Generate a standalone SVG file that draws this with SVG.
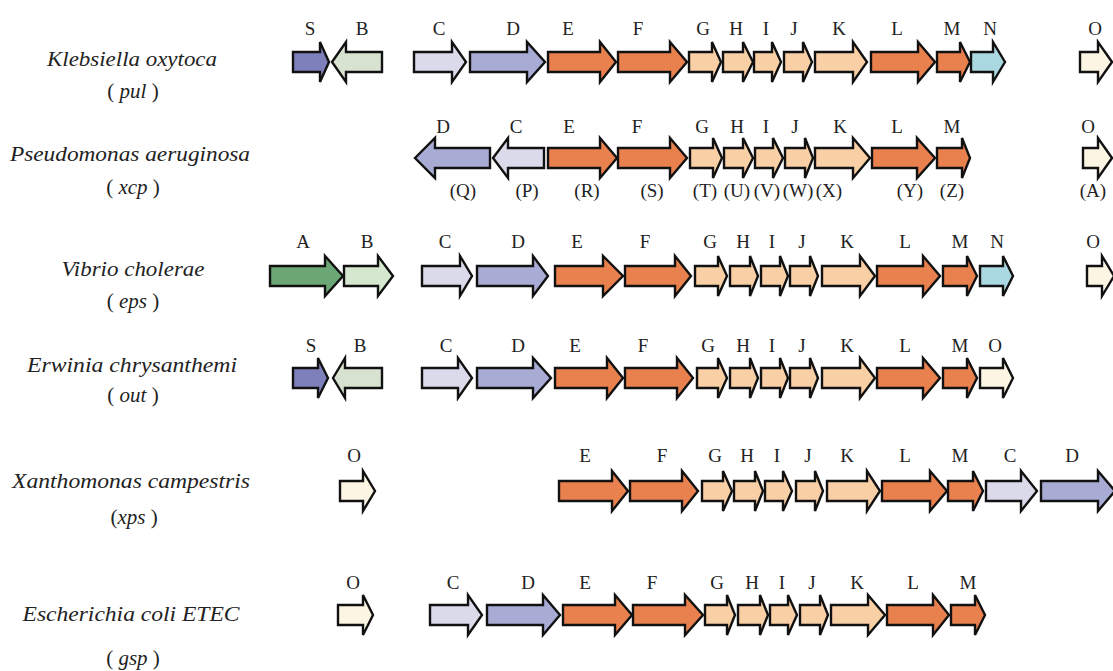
<svg xmlns="http://www.w3.org/2000/svg" width="1113" height="671" viewBox="0 0 1113 671">
<style>
.g{stroke:#111;stroke-width:2.4;stroke-linejoin:miter}
.cS{fill:#7d80ba}.cB{fill:#d7e3d0}.cC{fill:#dadaeb}.cD{fill:#a8acd4}
.cE{fill:#e9814f}.cG{fill:#f9cfa5}.cN{fill:#a9d8e0}.cO{fill:#fcf5e3}
.cA{fill:#6aa775}.cB2{fill:#d5e8cf}
.lab{font-family:"Liberation Serif",serif;font-size:19px;fill:#222;text-anchor:middle}
.sp{font-family:"Liberation Serif",serif;font-size:21px;font-style:italic;fill:#222;text-anchor:middle}
.up{font-style:normal}
</style>
<rect width="1113" height="671" fill="#fff"/>

<g id="species">
<text class="sp" x="132" y="66" textLength="170" lengthAdjust="spacingAndGlyphs">Klebsiella oxytoca</text>
<text class="sp" x="133" y="98"><tspan class="up">( </tspan>pul<tspan class="up"> )</tspan></text>
<text class="sp" x="130" y="161" textLength="240" lengthAdjust="spacingAndGlyphs">Pseudomonas aeruginosa</text>
<text class="sp" x="133" y="194"><tspan class="up">( </tspan>xcp<tspan class="up"> )</tspan></text>
<text class="sp" x="133" y="276" textLength="143" lengthAdjust="spacingAndGlyphs">Vibrio cholerae</text>
<text class="sp" x="133" y="308"><tspan class="up">( </tspan>eps<tspan class="up"> )</tspan></text>
<text class="sp" x="132" y="372" textLength="210" lengthAdjust="spacingAndGlyphs">Erwinia chrysanthemi</text>
<text class="sp" x="133" y="402"><tspan class="up">( </tspan>out<tspan class="up"> )</tspan></text>
<text class="sp" x="131" y="488" textLength="238" lengthAdjust="spacingAndGlyphs">Xanthomonas campestris</text>
<text class="sp" x="134" y="524"><tspan class="up">(</tspan>xps<tspan class="up"> )</tspan></text>
<text class="sp" x="131" y="621" textLength="217" lengthAdjust="spacingAndGlyphs">Escherichia coli ETEC</text>
<text class="sp" x="133" y="665"><tspan class="up">( </tspan>gsp<tspan class="up"> )</tspan></text>
</g>

<g id="row-pul">
<polygon class="g cS" points="293,52 320,52 320,42 329,62 320,82 320,72 293,72"/>
<polygon class="g cB" points="332,62 346,42 346,52 382,52 382,72 346,72 346,82"/>
<polygon class="g cC" points="414,52 452,52 452,42 466,62 452,82 452,72 414,72"/>
<polygon class="g cD" points="470,52 527,52 527,42 545,62 527,82 527,72 470,72"/>
<polygon class="g cE" points="548,52 600,52 600,42 616,62 600,82 600,72 548,72"/>
<polygon class="g cE" points="618,52 670,52 670,42 687,62 670,82 670,72 618,72"/>
<polygon class="g cG" points="689,52 712,52 712,42 721,62 712,82 712,72 689,72"/>
<polygon class="g cG" points="723,52 743,52 743,42 753,62 743,82 743,72 723,72"/>
<polygon class="g cG" points="754,52 772,52 772,42 781,62 772,82 772,72 754,72"/>
<polygon class="g cG" points="784,52 803,52 803,42 812,62 803,82 803,72 784,72"/>
<polygon class="g cG" points="815,52 853,52 853,42 867,62 853,82 853,72 815,72"/>
<polygon class="g cE" points="871,52 918,52 918,42 935,62 918,82 918,72 871,72"/>
<polygon class="g cE" points="937,52 960,52 960,42 970,62 960,82 960,72 937,72"/>
<polygon class="g cN" points="971,52 993,52 993,42 1005,62 993,82 993,72 971,72"/>
<polygon class="g cO" points="1080,52 1098,52 1098,42 1112,62 1098,82 1098,72 1080,72"/>
<text class="lab" x="310" y="35">S</text><text class="lab" x="362" y="35">B</text>
<text class="lab" x="439" y="35">C</text><text class="lab" x="513" y="35">D</text>
<text class="lab" x="568" y="35">E</text><text class="lab" x="638" y="35">F</text>
<text class="lab" x="703" y="35">G</text><text class="lab" x="736" y="35">H</text>
<text class="lab" x="766" y="35">I</text><text class="lab" x="794" y="35">J</text>
<text class="lab" x="839" y="35">K</text><text class="lab" x="897" y="35">L</text>
<text class="lab" x="952" y="35">M</text><text class="lab" x="990" y="35">N</text>
<text class="lab" x="1095" y="35">O</text>
</g>

<g id="row-xcp">
<polygon class="g cD" points="415,158 435,138 435,148 490,148 490,168 435,168 435,178"/>
<polygon class="g cC" points="493,158 508,138 508,148 544,148 544,168 508,168 508,178"/>
<polygon class="g cE" points="548,148 600,148 600,138 617,158 600,178 600,168 548,168"/>
<polygon class="g cE" points="618,148 670,148 670,138 687,158 670,178 670,168 618,168"/>
<polygon class="g cG" points="690,148 713,148 713,138 722,158 713,178 713,168 690,168"/>
<polygon class="g cG" points="724,148 743,148 743,138 753,158 743,178 743,168 724,168"/>
<polygon class="g cG" points="755,148 773,148 773,138 783,158 773,178 773,168 755,168"/>
<polygon class="g cG" points="785,148 805,148 805,138 813,158 805,178 805,168 785,168"/>
<polygon class="g cG" points="815,148 853,148 853,138 870,158 853,178 853,168 815,168"/>
<polygon class="g cE" points="872,148 917,148 917,138 935,158 917,178 917,168 872,168"/>
<polygon class="g cE" points="937,148 962,148 962,138 970,158 962,178 962,168 937,168"/>
<polygon class="g cO" points="1083,148 1098,148 1098,138 1112,158 1098,178 1098,168 1083,168"/>
<text class="lab" x="443" y="133">D</text><text class="lab" x="516" y="133">C</text>
<text class="lab" x="569" y="133">E</text><text class="lab" x="637" y="133">F</text>
<text class="lab" x="702" y="133">G</text><text class="lab" x="737" y="133">H</text>
<text class="lab" x="766" y="133">I</text><text class="lab" x="795" y="133">J</text>
<text class="lab" x="840" y="133">K</text><text class="lab" x="897" y="133">L</text>
<text class="lab" x="952" y="133">M</text><text class="lab" x="1088" y="133">O</text>
<text class="lab" x="463" y="197">(Q)</text><text class="lab" x="527" y="197">(P)</text>
<text class="lab" x="587" y="197">(R)</text><text class="lab" x="652" y="197">(S)</text>
<text class="lab" x="705" y="197">(T)</text><text class="lab" x="737" y="197">(U)</text>
<text class="lab" x="767" y="197">(V)</text><text class="lab" x="798" y="197">(W)</text>
<text class="lab" x="829" y="197">(X)</text><text class="lab" x="910" y="197">(Y)</text>
<text class="lab" x="952" y="197">(Z)</text><text class="lab" x="1093" y="197">(A)</text>
</g>

<g id="row-eps">
<polygon class="g cA" points="270,266 325,266 325,256 343,276 325,296 325,286 270,286"/>
<polygon class="g cB2" points="344,266 378,266 378,256 393,276 378,296 378,286 344,286"/>
<polygon class="g cC" points="422,266 460,266 460,256 472,276 460,296 460,286 422,286"/>
<polygon class="g cD" points="477,266 533,266 533,256 548,276 533,296 533,286 477,286"/>
<polygon class="g cE" points="555,266 603,266 603,256 623,276 603,296 603,286 555,286"/>
<polygon class="g cE" points="625,266 675,266 675,256 691,276 675,296 675,286 625,286"/>
<polygon class="g cG" points="695,266 718,266 718,256 727,276 718,296 718,286 695,286"/>
<polygon class="g cG" points="730,266 750,266 750,256 758,276 750,296 750,286 730,286"/>
<polygon class="g cG" points="761,266 780,266 780,256 788,276 780,296 780,286 761,286"/>
<polygon class="g cG" points="790,266 810,266 810,256 818,276 810,296 810,286 790,286"/>
<polygon class="g cG" points="822,266 860,266 860,256 875,276 860,296 860,286 822,286"/>
<polygon class="g cE" points="877,266 923,266 923,256 940,276 923,296 923,286 877,286"/>
<polygon class="g cE" points="943,266 967,266 967,256 977,276 967,296 967,286 943,286"/>
<polygon class="g cN" points="980,266 1003,266 1003,256 1013,276 1003,296 1003,286 980,286"/>
<polygon class="g cO" points="1087,266 1102,266 1102,256 1114,276 1102,296 1102,286 1087,286"/>
<text class="lab" x="303" y="248">A</text><text class="lab" x="367" y="248">B</text>
<text class="lab" x="445" y="248">C</text><text class="lab" x="518" y="248">D</text>
<text class="lab" x="577" y="248">E</text><text class="lab" x="645" y="248">F</text>
<text class="lab" x="710" y="248">G</text><text class="lab" x="743" y="248">H</text>
<text class="lab" x="772" y="248">I</text><text class="lab" x="802" y="248">J</text>
<text class="lab" x="847" y="248">K</text><text class="lab" x="905" y="248">L</text>
<text class="lab" x="960" y="248">M</text><text class="lab" x="997" y="248">N</text>
<text class="lab" x="1093" y="248">O</text>
</g>

<g id="row-out">
<polygon class="g cS" points="293,368 318,368 318,358 328,378 318,398 318,388 293,388"/>
<polygon class="g cB" points="333,378 345,358 345,368 382,368 382,388 345,388 345,398"/>
<polygon class="g cC" points="422,368 458,368 458,358 472,378 458,398 458,388 422,388"/>
<polygon class="g cD" points="477,368 533,368 533,358 551,378 533,398 533,388 477,388"/>
<polygon class="g cE" points="555,368 607,368 607,358 623,378 607,398 607,388 555,388"/>
<polygon class="g cE" points="625,368 677,368 677,358 693,378 677,398 677,388 625,388"/>
<polygon class="g cG" points="697,368 718,368 718,358 727,378 718,398 718,388 697,388"/>
<polygon class="g cG" points="730,368 750,368 750,358 758,378 750,398 750,388 730,388"/>
<polygon class="g cG" points="761,368 780,368 780,358 788,378 780,398 780,388 761,388"/>
<polygon class="g cG" points="790,368 810,368 810,358 818,378 810,398 810,388 790,388"/>
<polygon class="g cG" points="822,368 860,368 860,358 875,378 860,398 860,388 822,388"/>
<polygon class="g cE" points="877,368 923,368 923,358 940,378 923,398 923,388 877,388"/>
<polygon class="g cE" points="943,368 967,368 967,358 977,378 967,398 967,388 943,388"/>
<polygon class="g cO" points="980,368 1003,368 1003,358 1013,378 1003,398 1003,388 980,388"/>
<text class="lab" x="311" y="352">S</text><text class="lab" x="360" y="352">B</text>
<text class="lab" x="446" y="352">C</text><text class="lab" x="518" y="352">D</text>
<text class="lab" x="575" y="352">E</text><text class="lab" x="643" y="352">F</text>
<text class="lab" x="708" y="352">G</text><text class="lab" x="743" y="352">H</text>
<text class="lab" x="772" y="352">I</text><text class="lab" x="802" y="352">J</text>
<text class="lab" x="847" y="352">K</text><text class="lab" x="905" y="352">L</text>
<text class="lab" x="960" y="352">M</text><text class="lab" x="995" y="352">O</text>
</g>

<g id="row-xps">
<polygon class="g cO" points="340,481 363,481 363,471 375,491 363,511 363,501 340,501"/>
<polygon class="g cE" points="559,481 612,481 612,471 628,491 612,511 612,501 559,501"/>
<polygon class="g cE" points="630,481 682,481 682,471 698,491 682,511 682,501 630,501"/>
<polygon class="g cG" points="702,481 723,481 723,471 732,491 723,511 723,501 702,501"/>
<polygon class="g cG" points="734,481 755,481 755,471 763,491 755,511 755,501 734,501"/>
<polygon class="g cG" points="765,481 783,481 783,471 792,491 783,511 783,501 765,501"/>
<polygon class="g cG" points="796,481 815,481 815,471 823,491 815,511 815,501 796,501"/>
<polygon class="g cG" points="827,481 867,481 867,471 880,491 867,511 867,501 827,501"/>
<polygon class="g cE" points="882,481 930,481 930,471 947,491 930,511 930,501 882,501"/>
<polygon class="g cE" points="948,481 973,481 973,471 983,491 973,511 973,501 948,501"/>
<polygon class="g cC" points="986,481 1021,481 1021,471 1037,491 1021,511 1021,501 986,501"/>
<polygon class="g cD" points="1041,481 1098,481 1098,471 1115,491 1098,511 1098,501 1041,501"/>
<text class="lab" x="354" y="462">O</text>
<text class="lab" x="585" y="462">E</text><text class="lab" x="662" y="462">F</text>
<text class="lab" x="715" y="462">G</text><text class="lab" x="747" y="462">H</text>
<text class="lab" x="777" y="462">I</text><text class="lab" x="808" y="462">J</text>
<text class="lab" x="847" y="462">K</text><text class="lab" x="905" y="462">L</text>
<text class="lab" x="960" y="462">M</text><text class="lab" x="1010" y="462">C</text>
<text class="lab" x="1072" y="462">D</text>
</g>

<g id="row-gsp">
<polygon class="g cO" points="338,605 363,605 363,595 373,615 363,635 363,625 338,625"/>
<polygon class="g cC" points="430,605 468,605 468,595 482,615 468,635 468,625 430,625"/>
<polygon class="g cD" points="487,605 543,605 543,595 560,615 543,635 543,625 487,625"/>
<polygon class="g cE" points="563,605 615,605 615,595 632,615 615,635 615,625 563,625"/>
<polygon class="g cE" points="633,605 685,605 685,595 703,615 685,635 685,625 633,625"/>
<polygon class="g cG" points="705,605 727,605 727,595 735,615 727,635 727,625 705,625"/>
<polygon class="g cG" points="738,605 760,605 760,595 768,615 760,635 760,625 738,625"/>
<polygon class="g cG" points="770,605 788,605 788,595 797,615 788,635 788,625 770,625"/>
<polygon class="g cG" points="800,605 820,605 820,595 828,615 820,635 820,625 800,625"/>
<polygon class="g cG" points="831,605 868,605 868,595 885,615 868,635 868,625 831,625"/>
<polygon class="g cE" points="887,605 933,605 933,595 949,615 933,635 933,625 887,625"/>
<polygon class="g cE" points="951,605 975,605 975,595 985,615 975,635 975,625 951,625"/>
<text class="lab" x="353" y="589">O</text>
<text class="lab" x="453" y="589">C</text><text class="lab" x="528" y="589">D</text>
<text class="lab" x="585" y="589">E</text><text class="lab" x="652" y="589">F</text>
<text class="lab" x="717" y="589">G</text><text class="lab" x="752" y="589">H</text>
<text class="lab" x="782" y="589">I</text><text class="lab" x="812" y="589">J</text>
<text class="lab" x="857" y="589">K</text><text class="lab" x="913" y="589">L</text>
<text class="lab" x="968" y="589">M</text>
</g>

<g id="connectors"></g>
</svg>
